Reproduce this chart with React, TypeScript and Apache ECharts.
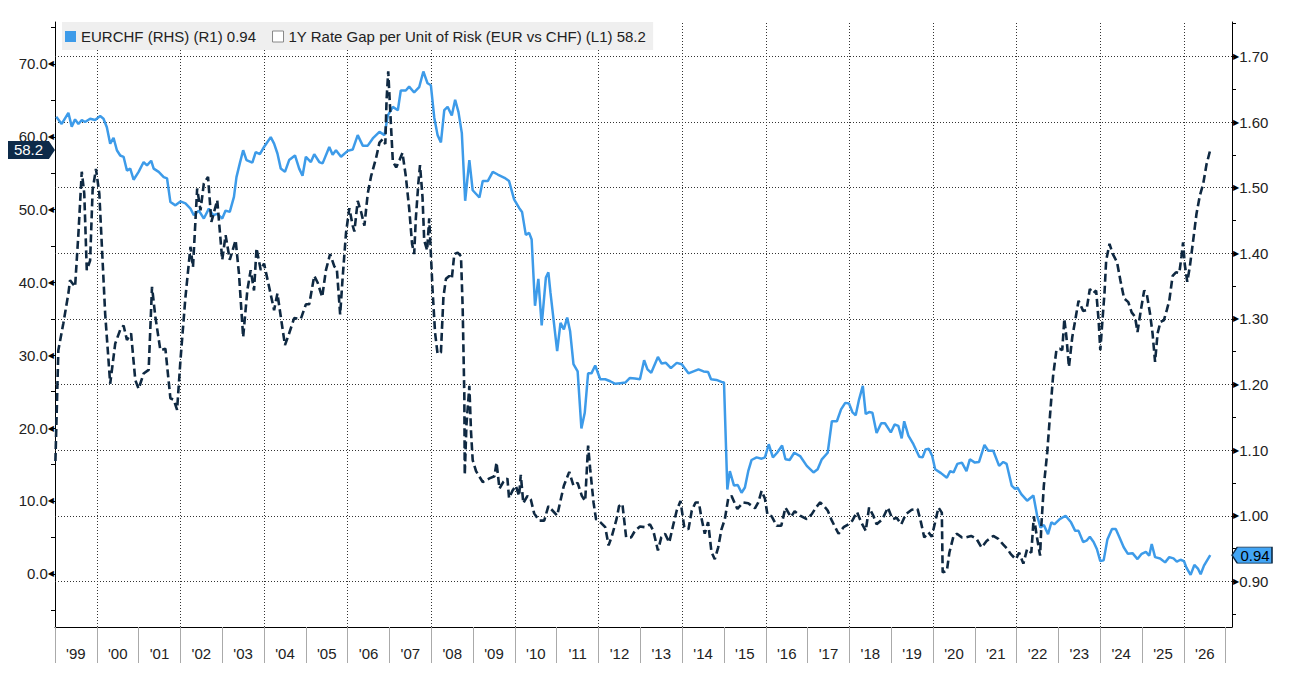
import React, { useEffect, useRef } from "react";
import * as echarts from "echarts";

// ---------- data (decimal years) ----------
const eurchfDates = [
  1999.03, 1999.16, 1999.32, 1999.4, 1999.48, 1999.56, 1999.64, 1999.72, 1999.84, 1999.96,
  2000.08, 2000.16, 2000.24, 2000.32, 2000.4, 2000.48, 2000.56, 2000.64, 2000.72, 2000.8, 2000.88,
  2001.0, 2001.12, 2001.2, 2001.3, 2001.36, 2001.48, 2001.6, 2001.68, 2001.76, 2001.88,
  2002.0, 2002.12, 2002.24, 2002.32, 2002.44, 2002.56, 2002.68, 2002.78, 2002.88,
  2003.0, 2003.08, 2003.18, 2003.28, 2003.34, 2003.42, 2003.5, 2003.58, 2003.72, 2003.8, 2003.9,
  2004.0, 2004.16, 2004.24, 2004.32, 2004.4, 2004.5, 2004.6, 2004.74, 2004.84, 2004.92,
  2005.0, 2005.12, 2005.2, 2005.32, 2005.4, 2005.56, 2005.64, 2005.72, 2005.84,
  2006.0, 2006.12, 2006.24, 2006.36, 2006.48, 2006.6, 2006.76, 2006.88, 2006.96,
  2007.08, 2007.2, 2007.27, 2007.39, 2007.47, 2007.59, 2007.71, 2007.81, 2007.91, 2007.99,
  2008.07, 2008.15, 2008.23, 2008.31, 2008.39, 2008.49, 2008.57, 2008.65, 2008.73, 2008.81, 2008.91, 2008.99,
  2009.15, 2009.23, 2009.35, 2009.47, 2009.59, 2009.75, 2009.86, 2009.98,
  2010.1, 2010.17, 2010.26, 2010.34, 2010.4, 2010.48, 2010.56, 2010.64, 2010.74, 2010.8, 2010.85,
  2011.01, 2011.09, 2011.17, 2011.25, 2011.32, 2011.4, 2011.5, 2011.59, 2011.67, 2011.75, 2011.83, 2011.92,
  2012.04, 2012.16, 2012.28, 2012.4, 2012.52, 2012.64, 2012.75, 2012.87, 2012.99,
  2013.09, 2013.17, 2013.26, 2013.42, 2013.51, 2013.61, 2013.73, 2013.87, 2013.99,
  2014.15, 2014.27, 2014.39, 2014.51, 2014.62, 2014.69, 2014.82, 2014.94, 2015.0,
  2015.08, 2015.14, 2015.24, 2015.33, 2015.42, 2015.5, 2015.58, 2015.66, 2015.78, 2015.9, 2015.98,
  2016.07, 2016.17, 2016.27, 2016.39, 2016.47, 2016.57, 2016.68, 2016.82, 2016.98,
  2017.14, 2017.24, 2017.34, 2017.48, 2017.58, 2017.7, 2017.8, 2017.9, 2017.99,
  2018.07, 2018.15, 2018.23, 2018.32, 2018.39, 2018.47, 2018.55, 2018.65, 2018.76, 2018.85, 2018.99,
  2019.08, 2019.17, 2019.25, 2019.31, 2019.41, 2019.53, 2019.67, 2019.75, 2019.82, 2019.9, 2019.98,
  2020.05, 2020.19, 2020.33, 2020.41, 2020.49, 2020.58, 2020.69, 2020.8, 2020.88,
  2021.0, 2021.1, 2021.23, 2021.32, 2021.44, 2021.58, 2021.68, 2021.76, 2021.88, 2021.96,
  2022.02, 2022.11, 2022.25, 2022.4, 2022.49, 2022.57, 2022.65, 2022.75, 2022.83, 2022.9,
  2023.03, 2023.17, 2023.3, 2023.4, 2023.48, 2023.59, 2023.67, 2023.75, 2023.84, 2023.92,
  2024.0, 2024.08, 2024.17, 2024.28, 2024.37, 2024.46, 2024.56, 2024.66, 2024.77, 2024.89, 2024.99,
  2025.09, 2025.17, 2025.23, 2025.31, 2025.43, 2025.55, 2025.65, 2025.75, 2025.83, 2025.92,
  2026.0, 2026.06, 2026.16, 2026.25, 2026.34, 2026.4, 2026.48, 2026.63,
];
const eurchfValues = [
  1.608, 1.597, 1.614, 1.593, 1.604, 1.597, 1.603, 1.6, 1.605, 1.603,
  1.609, 1.605, 1.592, 1.567, 1.576, 1.557, 1.549, 1.547, 1.526, 1.529, 1.512,
  1.524, 1.539, 1.534, 1.541, 1.529, 1.524, 1.516, 1.514, 1.478, 1.473,
  1.479, 1.476, 1.468, 1.458, 1.465, 1.453, 1.468, 1.458, 1.46,
  1.453, 1.465, 1.463, 1.486, 1.516, 1.537, 1.557, 1.542, 1.538, 1.554, 1.551,
  1.562, 1.577, 1.567, 1.552, 1.529, 1.524, 1.542, 1.549, 1.529, 1.518,
  1.547, 1.539, 1.551, 1.539, 1.537, 1.562, 1.55, 1.557, 1.547,
  1.556, 1.558, 1.58, 1.564, 1.564, 1.575, 1.585, 1.58, 1.61,
  1.623, 1.618, 1.648, 1.648, 1.654, 1.645, 1.653, 1.677, 1.659, 1.656,
  1.607, 1.58, 1.569, 1.618, 1.623, 1.61, 1.634, 1.615, 1.583, 1.48, 1.542, 1.496,
  1.485, 1.51, 1.51, 1.524, 1.52, 1.515, 1.51, 1.482,
  1.469, 1.463, 1.428, 1.431, 1.421, 1.32, 1.361, 1.29, 1.363, 1.371, 1.34,
  1.251, 1.294, 1.284, 1.302, 1.281, 1.231, 1.22, 1.133, 1.157, 1.217, 1.217, 1.229,
  1.208, 1.208, 1.205, 1.201, 1.202, 1.203, 1.21, 1.209, 1.208,
  1.237, 1.223, 1.218, 1.242, 1.232, 1.233, 1.225, 1.233, 1.231,
  1.217, 1.22, 1.223, 1.22, 1.219, 1.208, 1.207, 1.204, 1.203,
  1.04, 1.068, 1.046, 1.047, 1.035, 1.043, 1.068, 1.085, 1.089, 1.087, 1.089,
  1.109, 1.089, 1.096, 1.107, 1.086, 1.085, 1.096, 1.091, 1.076,
  1.066, 1.071, 1.086, 1.096, 1.144, 1.144, 1.162, 1.172, 1.171,
  1.158, 1.153, 1.177, 1.198, 1.155, 1.158, 1.157, 1.126, 1.141, 1.141, 1.127,
  1.139, 1.137, 1.118, 1.144, 1.122, 1.109, 1.09, 1.089, 1.101, 1.102, 1.091,
  1.071, 1.065, 1.058, 1.068, 1.066, 1.079, 1.081, 1.068, 1.086,
  1.081, 1.082, 1.108, 1.099, 1.099, 1.076, 1.082, 1.079, 1.046, 1.041,
  1.043, 1.033, 1.023, 1.031, 1.0, 0.982, 0.986, 0.972, 0.99, 0.987,
  0.995, 1.0, 0.99, 0.977, 0.977, 0.96, 0.962, 0.968, 0.96, 0.949,
  0.931, 0.932, 0.964, 0.98, 0.98, 0.967, 0.952, 0.942, 0.943, 0.934, 0.942,
  0.945, 0.939, 0.957, 0.937, 0.935, 0.929, 0.937, 0.935, 0.93, 0.933,
  0.931, 0.921, 0.91, 0.925, 0.919, 0.911, 0.924, 0.94,
];

const rateGapDates = [
  1999.01, 1999.08, 1999.2, 1999.32, 1999.36, 1999.48, 1999.56, 1999.64, 1999.7, 1999.76, 1999.84, 1999.9, 1999.98,
  2000.06, 2000.2, 2000.32, 2000.44, 2000.56, 2000.64, 2000.72, 2000.82, 2000.92,
  2001.0, 2001.12, 2001.24, 2001.32, 2001.4, 2001.52, 2001.64, 2001.76, 2001.84, 2001.92,
  2002.0, 2002.12, 2002.24, 2002.3, 2002.4, 2002.48, 2002.56, 2002.66, 2002.74, 2002.88,
  2003.0, 2003.08, 2003.18, 2003.32, 2003.4, 2003.5, 2003.6, 2003.68, 2003.76, 2003.82, 2003.92,
  2004.0, 2004.12, 2004.24, 2004.32, 2004.4, 2004.5, 2004.6, 2004.72, 2004.88,
  2005.0, 2005.08, 2005.2, 2005.28, 2005.39, 2005.48, 2005.58, 2005.68, 2005.74, 2005.82, 2005.88, 2005.96,
  2006.04, 2006.12, 2006.16, 2006.24, 2006.32, 2006.4, 2006.48, 2006.56, 2006.68, 2006.76, 2006.84, 2006.9, 2006.93, 2006.97,
  2007.01, 2007.08, 2007.16, 2007.24, 2007.31, 2007.39, 2007.47, 2007.54, 2007.59, 2007.63, 2007.69, 2007.73, 2007.79, 2007.83, 2007.9, 2007.95, 2007.99,
  2008.03, 2008.09, 2008.15, 2008.23, 2008.29, 2008.35, 2008.43, 2008.49, 2008.55, 2008.63, 2008.71, 2008.75, 2008.79, 2008.8, 2008.84, 2008.91, 2008.95, 2008.99,
  2009.07, 2009.23, 2009.39, 2009.51, 2009.56, 2009.63, 2009.72, 2009.82, 2009.86, 2009.94,
  2010.02, 2010.1, 2010.14, 2010.2, 2010.3, 2010.38, 2010.46, 2010.58, 2010.7, 2010.8,
  2011.01, 2011.17, 2011.3, 2011.4, 2011.5, 2011.6, 2011.68, 2011.75, 2011.8, 2011.88, 2011.94,
  2012.04, 2012.16, 2012.24, 2012.32, 2012.43, 2012.49, 2012.57, 2012.66, 2012.78, 2012.87, 2012.99,
  2013.11, 2013.23, 2013.31, 2013.42, 2013.5, 2013.59, 2013.69, 2013.79, 2013.87, 2013.96,
  2014.05, 2014.15, 2014.23, 2014.32, 2014.4, 2014.46, 2014.54, 2014.62, 2014.7, 2014.78, 2014.86, 2014.94,
  2015.02, 2015.1, 2015.18, 2015.32, 2015.46, 2015.58, 2015.74, 2015.82, 2015.9, 2015.98,
  2016.04, 2016.14, 2016.26, 2016.37, 2016.47, 2016.6, 2016.69, 2016.82, 2016.98,
  2017.1, 2017.2, 2017.3, 2017.38, 2017.48, 2017.58, 2017.74, 2017.86, 2017.98,
  2018.07, 2018.18, 2018.28, 2018.39, 2018.47, 2018.57, 2018.65, 2018.79, 2018.92,
  2019.03, 2019.13, 2019.24, 2019.35, 2019.49, 2019.63, 2019.71, 2019.79, 2019.89, 2019.97,
  2020.05, 2020.13, 2020.21, 2020.23, 2020.33, 2020.39, 2020.49, 2020.57, 2020.69, 2020.78, 2020.91,
  2021.04, 2021.16, 2021.28, 2021.44, 2021.56, 2021.68, 2021.78, 2021.86, 2021.98,
  2022.06, 2022.16, 2022.25, 2022.35, 2022.41, 2022.48, 2022.56, 2022.59, 2022.65, 2022.73, 2022.79, 2022.87, 2022.95,
  2023.03, 2023.09, 2023.14, 2023.19, 2023.25, 2023.33, 2023.4, 2023.48, 2023.59, 2023.67, 2023.75, 2023.83, 2023.9, 2023.96,
  2024.0, 2024.04, 2024.1, 2024.14, 2024.22, 2024.3, 2024.4, 2024.48, 2024.57, 2024.67, 2024.75, 2024.83, 2024.89, 2024.97,
  2025.05, 2025.11, 2025.19, 2025.25, 2025.31, 2025.37, 2025.44, 2025.52, 2025.59, 2025.65, 2025.73, 2025.81, 2025.89, 2025.94, 2025.98,
  2026.02, 2026.08, 2026.14, 2026.22, 2026.3, 2026.38, 2026.46, 2026.54, 2026.63,
];
const rateGapValues = [
  15.5, 30.7, 34.4, 38.5, 40.3, 39.4, 46.7, 55.2, 52.2, 41.7, 43.0, 52.7, 55.6,
  52.2, 35.7, 26.1, 31.6, 33.5, 34.1, 32.1, 33.0, 26.6,
  25.4, 27.5, 28.0, 39.4, 35.3, 30.7, 30.9, 24.1, 23.9, 22.5,
  29.3, 38.0, 44.9, 42.1, 52.9, 49.9, 53.6, 54.5, 48.3, 51.3,
  43.1, 46.5, 43.1, 45.8, 41.2, 32.5, 38.9, 41.7, 38.9, 44.7, 41.7,
  42.6, 39.4, 36.2, 38.5, 35.3, 31.4, 33.0, 35.1, 35.0,
  37.0, 37.0, 40.9, 40.0, 38.0, 41.7, 43.9, 42.2, 41.9, 35.6, 40.7, 46.8,
  50.2, 47.8, 47.0, 51.2, 49.7, 47.8, 52.2, 54.6, 57.1, 59.2, 59.7, 59.0, 65.1, 69.0,
  64.4, 56.6, 55.8, 56.8, 57.8, 54.6, 50.2, 45.3, 43.9, 48.8, 53.6, 56.1, 51.7, 45.8, 44.4, 48.8, 43.9,
  39.0, 33.1, 30.2, 30.4, 38.0, 40.5, 40.9, 40.5, 43.9, 44.1, 43.6, 36.6, 24.4, 13.6, 20.4, 25.8, 19.5, 15.6,
  14.1, 12.6, 13.1, 13.4, 15.3, 11.7, 12.6, 13.1, 10.4, 11.4,
  12.1, 10.7, 13.6, 9.7, 10.7, 10.2, 8.3, 7.3, 7.3, 9.3,
  8.0, 12.1, 14.0, 12.1, 12.5, 10.7, 10.0, 17.6, 14.4, 9.8, 7.5,
  7.1, 6.4, 3.9, 5.2, 7.5, 9.3, 9.6, 5.0, 5.0, 5.9, 6.5,
  6.4, 6.8, 5.9, 3.2, 5.0, 5.5, 4.3, 6.8, 8.7, 10.0,
  6.4, 6.1, 8.7, 9.8, 9.8, 7.7, 5.5, 7.1, 3.0, 2.0, 3.6, 6.1,
  7.5, 10.3, 10.7, 8.9, 9.8, 9.7, 9.0, 9.8, 11.4, 10.3,
  8.1, 7.9, 6.6, 6.6, 9.1, 7.8, 8.6, 8.0, 7.5,
  8.2, 9.1, 9.8, 9.4, 8.7, 7.3, 5.5, 6.4, 6.8,
  7.3, 8.5, 7.1, 5.9, 9.1, 8.0, 6.8, 7.5, 9.1,
  7.5, 7.7, 6.8, 8.2, 8.8, 8.9, 7.1, 5.0, 5.7, 5.1,
  7.1, 9.1, 8.4, 0.2, 0.4, 2.9, 5.2, 5.5, 5.0, 5.0, 5.2,
  4.8, 3.6, 4.5, 5.2, 4.8, 4.0, 3.4, 2.7, 2.0,
  2.9, 1.4, 3.4, 2.9, 7.9, 5.2, 2.5, 6.6, 12.1, 16.6, 21.2, 27.1, 30.7,
  30.9, 30.7, 35.0, 32.5, 28.4, 32.5, 34.8, 37.5, 36.1, 36.2, 39.1, 38.5, 38.9, 34.8,
  30.7, 33.9, 38.5, 43.0, 45.3, 43.9, 42.8, 40.3, 37.8, 37.3, 35.9, 35.3, 33.2, 36.2,
  38.9, 38.5, 35.7, 33.0, 29.1, 33.0, 34.6, 34.8, 36.2, 37.5, 40.9, 41.4, 41.3, 43.5, 45.5,
  42.5, 40.1, 42.1, 45.7, 49.4, 51.9, 53.5, 56.2, 58.2,
];

// ---------- axes ----------
const yearTicks = [
  1999, 2000, 2001, 2002, 2003, 2004, 2005, 2006, 2007, 2008, 2009, 2010, 2011, 2012,
  2013, 2014, 2015, 2016, 2017, 2018, 2019, 2020, 2021, 2022, 2023, 2024, 2025, 2026, 2027,
];
const yearLabels = [
  "'99", "'00", "'01", "'02", "'03", "'04", "'05", "'06", "'07", "'08", "'09", "'10", "'11", "'12",
  "'13", "'14", "'15", "'16", "'17", "'18", "'19", "'20", "'21", "'22", "'23", "'24", "'25", "'26",
];
const gridYears = [2000, 2002, 2004, 2006, 2008, 2010, 2012, 2014, 2016, 2018, 2020, 2022, 2024, 2026];
const leftLabelValues = [0, 10, 20, 30, 40, 50, 60, 70];
const leftTickValues = [-5, 0, 5, 10, 15, 20, 25, 30, 35, 40, 45, 50, 55, 60, 65, 70, 75];
const rightLabelValues = [0.9, 1.0, 1.1, 1.2, 1.3, 1.4, 1.5, 1.6, 1.7];
const rightTickValues = [0.85, 0.9, 0.95, 1.0, 1.05, 1.1, 1.15, 1.2, 1.25, 1.3, 1.35, 1.4, 1.45, 1.5, 1.55, 1.6, 1.65, 1.7, 1.75];

const X_MIN = 1999;
const X_MAX = 2027.15;
const LEFT_MIN = -7.3;
const LEFT_MAX = 75.76;
const RIGHT_MIN = 0.8305;
const RIGHT_MAX = 1.7524;

const EURCHF_NAME = "EURCHF (RHS) (R1) 0.94";
const GAP_NAME = "1Y Rate Gap per Unit of Risk (EUR vs CHF) (L1) 58.2";

const BLUE = "#3d9be9";
const NAVY = "#0f2942";
const FONT = "'Liberation Sans', Arial, sans-serif";

export default function App() {
  const ref = useRef<HTMLDivElement>(null);

  useEffect(() => {
    document.body.style.margin = "0";
    if (!ref.current) return;
    const chart = echarts.init(ref.current, undefined, { renderer: "svg" });

    const eurchfData = eurchfDates.map((d, i) => [d, eurchfValues[i]]);
    const gapData = rateGapDates.map((d, i) => [d, rateGapValues[i]]);
    const lastEur = eurchfValues[eurchfValues.length - 1];
    const lastGap = rateGapValues[rateGapValues.length - 1];

    const gridLineStyle = { color: "#333", width: 1, type: [1, 2] as any };

    const option: any = {
      animation: false,
      backgroundColor: "#ffffff",
      textStyle: { fontFamily: FONT },
      grid: { left: 55, right: 65, top: 22, bottom: 61, containLabel: false, outerBoundsMode: "none" },
      legend: {
        left: 62,
        top: 22,
        orient: "horizontal",
        backgroundColor: "#efefef",
        padding: [7, 7, 6, 3],
        itemGap: 16,
        itemWidth: 11,
        itemHeight: 11,
        selectedMode: false,
        textStyle: { fontFamily: FONT, fontSize: 15, color: "#222" },
        data: [
          { name: EURCHF_NAME, icon: "rect", itemStyle: { color: BLUE } },
          {
            name: GAP_NAME,
            icon: "rect",
            itemStyle: { color: "#ffffff", borderColor: "#888", borderWidth: 1, borderType: "solid" },
          },
        ],
      },
      xAxis: [
        {
          type: "value",
          min: X_MIN,
          max: X_MAX,
          axisLine: { show: true, onZero: false, lineStyle: { color: "#000", width: 1 } },
          axisTick: {
            show: true,
            customValues: yearTicks,
            length: 36,
            lineStyle: { color: "#aaa", width: 1 },
          },
          axisLabel: {
            show: true,
            customValues: yearTicks.slice(0, yearTicks.length - 1).map((y) => y + 0.5),
            formatter: (v: number) => yearLabels[Math.round(v - 1999.5)] ?? "",
            margin: 19,
            fontSize: 15,
            color: "#222",
            fontFamily: FONT,
          },
          splitLine: { show: false },
        },
      ],
      yAxis: [
        {
          type: "value",
          position: "left",
          min: LEFT_MIN,
          max: LEFT_MAX,
          axisLine: { show: true, onZero: false, lineStyle: { color: "#000", width: 1 } },
          axisTick: { show: true, customValues: leftTickValues, length: 4, lineStyle: { color: "#000" } },
          axisLabel: {
            show: true,
            customValues: leftLabelValues,
            margin: 1,
            fontSize: 15,
            color: "#222",
            fontFamily: FONT,
            formatter: (v: number) => `${v.toFixed(1)}{t|◀}`,
            rich: { t: { fontSize: 8, color: "#000", verticalAlign: "middle", fontFamily: "DejaVu Sans" } },
          },
          splitLine: { show: false },
        },
        {
          type: "value",
          position: "right",
          min: RIGHT_MIN,
          max: RIGHT_MAX,
          axisLine: { show: true, onZero: false, lineStyle: { color: "#000", width: 1 } },
          axisTick: { show: true, customValues: rightTickValues, length: 4, lineStyle: { color: "#000" } },
          axisLabel: {
            show: true,
            customValues: rightLabelValues,
            margin: 1,
            fontSize: 15,
            color: "#222",
            fontFamily: FONT,
            formatter: (v: number) => `{t|▶}${v.toFixed(2)}`,
            rich: { t: { fontSize: 8, color: "#000", verticalAlign: "middle", fontFamily: "DejaVu Sans" } },
          },
          splitLine: { show: false },
        },
      ],
      series: [
        {
          name: EURCHF_NAME,
          type: "line",
          xAxisIndex: 0,
          yAxisIndex: 1,
          data: eurchfData,
          showSymbol: false,
          symbol: "none",
          lineStyle: { color: BLUE, width: 2.5 },
          itemStyle: { color: BLUE },
          z: 2,
          markLine: {
            silent: true,
            z: 1,
            symbol: ["none", "none"],
            label: { show: false },
            lineStyle: gridLineStyle,
            emphasis: { disabled: true },
            data: [
              ...rightLabelValues.map((v) => ({ yAxis: v, lineStyle: gridLineStyle })),
              ...gridYears.map((y) => ({ xAxis: y, lineStyle: gridLineStyle })),
            ],
          },
          markPoint: {
            silent: true,
            symbol: "path://M6,0 L46,0 L46,20 L6,20 L0,10 Z",
            symbolSize: [40, 16],
            symbolOffset: [20, 0],
            itemStyle: { color: "#42a5f5", borderColor: NAVY, borderWidth: 1 },
            label: {
              show: true,
              position: "inside",
              offset: [3, 0],
              color: "#000",
              fontSize: 15,
              fontFamily: FONT,
              formatter: (p: any) => Number(p.value).toFixed(2),
            },
            data: [{ coord: [X_MAX, lastEur], value: lastEur }],
          },
        },
        {
          name: GAP_NAME,
          type: "line",
          xAxisIndex: 0,
          yAxisIndex: 0,
          data: gapData,
          showSymbol: false,
          symbol: "none",
          lineStyle: { color: NAVY, width: 2.6, type: [8, 4] },
          itemStyle: { color: NAVY },
          z: 3,
          markPoint: {
            silent: true,
            symbol: "path://M0,0 L40,0 L46,10 L40,20 L0,20 Z",
            symbolSize: [47, 18],
            symbolOffset: [-23.5, 0],
            itemStyle: { color: "#0d2b4a" },
            label: {
              show: true,
              position: "inside",
              offset: [-3, 0],
              color: "#ffffff",
              fontSize: 15,
              fontFamily: FONT,
              formatter: (p: any) => Number(p.value).toFixed(1),
            },
            data: [{ coord: [X_MIN, lastGap], value: lastGap }],
          },
        },
      ],
    };

    chart.setOption(option);
    return () => chart.dispose();
  }, []);

  return <div ref={ref} style={{ width: 1297, height: 688 }} />;
}
